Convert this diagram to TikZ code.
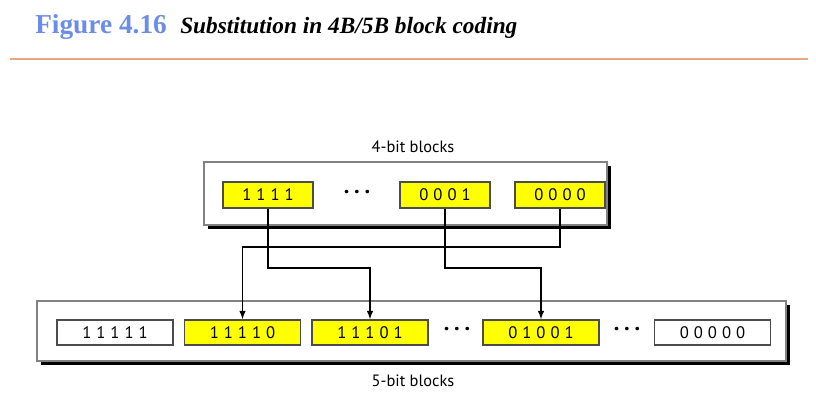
\documentclass[tikz,border=0pt]{standalone}
\usepackage{fontspec}
\setmainfont{Liberation Serif}
\setsansfont{PT Sans}
\newfontfamily\bitfont[LetterSpace=30]{PT Sans}
\newfontfamily\dotfont[LetterSpace=20]{PT Sans Bold}
\usetikzlibrary{arrows.meta}
\definecolor{myellow}{rgb}{1, 1, 0}
\definecolor{mblue}{rgb}{0.42, 0.55, 0.91}
\definecolor{morange}{rgb}{0.9, 0.66, 0.5}
\definecolor{mgray}{rgb}{0.3, 0.3, 0.3}
\tikzset{bits/.style = {draw=mgray, thick, inner sep = 0, font=\bitfont\fontsize{12.5}{12.5}\selectfont}}
\tikzset{fourbits/.style = {bits, fill=myellow, minimum width = 67.5pt, minimum height = 19.5pt}}
\tikzset{fivebits/.style = {bits, minimum width = 87pt, minimum height = 18.75pt}}
\tikzset{dots/.style = {font=\dotfont\fontsize{17}{17}\selectfont}}
\tikzset{caption/.style = {font=\sffamily\fontsize{12.3}{12.3}\selectfont}}
\tikzset{shadowbox/.style = {draw=mgray!70, line width = 0.8pt}}
\tikzset{shadow/.style = {line width = 2.4pt}}
\tikzset{link/.style = {-{Latex[length=6.5pt, width=5pt]}, line width = 1.1pt}}

\begin{document}
\begin{tikzpicture}[x=0.75pt, y=-0.75pt]
    \useasboundingbox (0, 0) rectangle (816, 418);

    \node [anchor=base west, inner sep=0, text=mblue, font=\bfseries\fontsize{20.5}{20.5}\selectfont] (fig) at (35, 33) {Figure 4.16};
    \node [anchor=base west, inner sep=0, font=\bfseries\itshape\fontsize{17.5}{17.5}\selectfont] (ttl) at (180, 33) {Substitution in 4B/5B block coding};
    \draw [morange, line width = 2.2pt] (10, 59) -- (808, 59);

    % 4-bit blocks
    \draw [shadow] (208, 227.5) -- (609.5, 227.5) -- (609.5, 166);
    \draw [shadowbox, fill=white] (204, 162) rectangle (607, 225);
    \node [caption] (four) at (413, 147) {4-bit blocks};
    \node [fourbits] (t1111) at (268, 195) {1111};
    \node [dots] (tdots) at (357, 192) {...};
    \node [fourbits] (t0001) at (445, 195) {0001};
    \node [fourbits] (t0000) at (560, 195) {0000};

    % 5-bit blocks
    \draw [shadow] (41, 363.5) -- (788.5, 363.5) -- (788.5, 305);
    \draw [shadowbox, fill=white] (37, 301) rectangle (786, 361);
    \node [caption] (five) at (413, 381) {5-bit blocks};
    \node [fivebits] (f11111) at (115, 332.5) {11111};
    \node [fivebits, fill=myellow] (f11110) at (242.5, 332.5) {11110};
    \node [fivebits, fill=myellow] (f11101) at (370, 332.5) {11101};
    \node [dots] (fdotsa) at (457, 329.5) {...};
    \node [fivebits, fill=myellow] (f01001) at (541, 332.5) {01001};
    \node [dots] (fdotsb) at (627, 329.5) {...};
    \node [fivebits] (f00000) at (712.5, 332.5) {00000};

    \coordinate (upper) at (0, 247);
    \coordinate (lower) at (0, 268);
    \draw [link] (t0000.south) -- (t0000.south |- upper) -| (f11110.north);
    \draw [link] (t1111.south) -- (t1111.south |- lower) -| (f11101.north);
    \draw [link] (t0001.south) -- (t0001.south |- lower) -| (f01001.north);
\end{tikzpicture}
\end{document}
